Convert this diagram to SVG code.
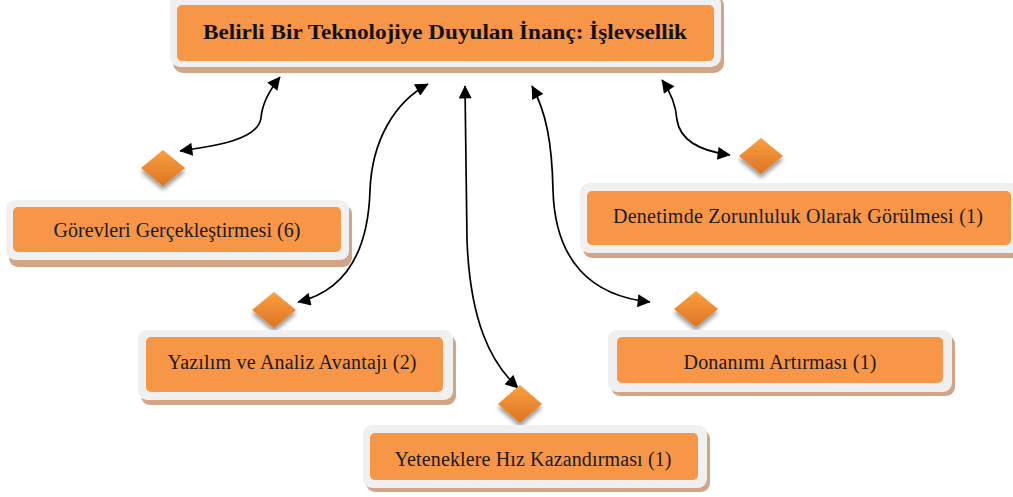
<svg xmlns="http://www.w3.org/2000/svg" width="1013" height="497" viewBox="0 0 1013 497">
<style>
.frame{fill:#F0F0F0}
.tan{fill:#D2A587}
.box{fill:#F79646}
.lbl{font-family:"Liberation Serif","Times New Roman",serif;font-size:20px;fill:#1a1a1a;text-anchor:middle}
.ttl{font-family:"Liberation Serif","Times New Roman",serif;font-size:21px;font-weight:bold;fill:#111;text-anchor:middle}
.con{fill:none;stroke:#000;stroke-width:1.7;marker-start:url(#ah);marker-end:url(#ah)}
.dia{fill:url(#dg);filter:url(#ds)}
</style>
<defs>
<marker id="ah" viewBox="0 0 10 10" refX="9.5" refY="5" markerUnits="userSpaceOnUse" markerWidth="14" markerHeight="13" orient="auto-start-reverse">
<path d="M0,0 L10,5 L0,10 z" fill="#000"/>
</marker>
<linearGradient id="dg" x1="0" y1="0" x2="0" y2="1">
<stop offset="0" stop-color="#FBA040"/>
<stop offset="1" stop-color="#DC7422"/>
</linearGradient>
<filter id="ds" x="-50%" y="-50%" width="200%" height="200%">
<feDropShadow dx="0" dy="4" stdDeviation="2.2" flood-color="#000" flood-opacity="0.4"/>
</filter>
</defs>

<g id="connectors">
<path class="con" d="M280 77 C268 92 262 104 261 118 C258 140 215 146 180 151"/>
<path class="con" d="M428 84 C395 102 372 140 370 190 C368 260 340 292 298 302"/>
<path class="con" d="M465 86 L467 240 C470 320 490 362 518 388"/>
<path class="con" d="M532 86 C546 112 552 142 553 190 C555 262 592 296 650 302"/>
<path class="con" d="M662 80 C672 94 676 106 677 120 C680 140 700 151 730 155"/>
</g>

<g id="central">
<rect class="tan" x="173" y="-4" width="551" height="77" rx="10"/>
<rect class="frame" x="170" y="-6" width="551" height="73" rx="10"/>
<rect class="box" x="177" y="5" width="537" height="56" rx="5"/>
<text class="ttl" x="445" y="39" textLength="484" lengthAdjust="spacingAndGlyphs">Belirli Bir Teknolojiye Duyulan İnanç: İşlevsellik</text>
</g>

<g id="gorevleri">
<polygon class="dia" points="163,150 185,168 163,186 141,168"/>
<rect class="tan" x="9" y="205" width="343" height="62" rx="9"/>
<rect class="frame" x="6" y="200" width="343" height="60" rx="9"/>
<rect class="box" x="13" y="207" width="328" height="45" rx="5"/>
<text class="lbl" x="177" y="237" textLength="247" lengthAdjust="spacing">Görevleri Gerçekleştirmesi (6)</text>
</g>

<g id="denetimde">
<polygon class="dia" points="761,138 783,156 761,174 739,156"/>
<rect class="tan" x="583" y="188" width="440" height="70" rx="9"/>
<rect class="frame" x="580" y="183" width="440" height="70" rx="9"/>
<rect class="box" x="587" y="191" width="424" height="54" rx="5"/>
<text class="lbl" x="798" y="223" textLength="370" lengthAdjust="spacing">Denetimde Zorunluluk Olarak Görülmesi (1)</text>
</g>

<g id="yazilim">
<polygon class="dia" points="274,292 296,310 274,328 252,310"/>
<rect class="tan" x="141" y="335" width="315" height="70" rx="9"/>
<rect class="frame" x="138" y="330" width="315" height="70" rx="9"/>
<rect class="box" x="146" y="337" width="297" height="55" rx="5"/>
<text class="lbl" x="292" y="369" textLength="249" lengthAdjust="spacing">Yazılım ve Analiz Avantajı (2)</text>
</g>

<g id="yetenek">
<polygon class="dia" points="520,385 542,404 520,423 498,404"/>
<rect class="tan" x="366" y="430" width="344" height="62" rx="9"/>
<rect class="frame" x="363" y="425" width="344" height="63" rx="9"/>
<rect class="box" x="370" y="433" width="328" height="47" rx="5"/>
<text class="lbl" x="533" y="466" textLength="277" lengthAdjust="spacing">Yeteneklere Hız Kazandırması (1)</text>
</g>

<g id="donanim">
<polygon class="dia" points="696,291 718,309 696,327 674,309"/>
<rect class="tan" x="611" y="335" width="344" height="61" rx="9"/>
<rect class="frame" x="608" y="330" width="344" height="62" rx="9"/>
<rect class="box" x="617" y="337" width="326" height="46" rx="5"/>
<text class="lbl" x="780" y="369" textLength="193" lengthAdjust="spacing">Donanımı Artırması (1)</text>
</g>
</svg>
